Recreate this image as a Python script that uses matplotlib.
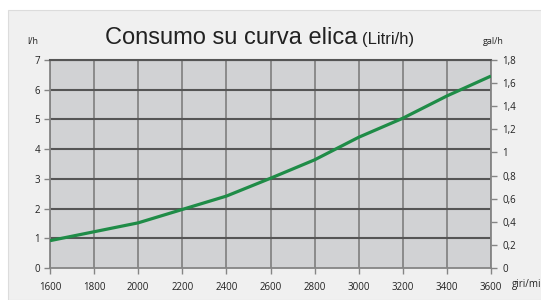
import matplotlib.pyplot as plt
from matplotlib.patches import Rectangle
from matplotlib.ticker import FuncFormatter

rpm = [1600, 1800, 2000, 2200, 2400, 2600, 2800, 3000, 3200, 3400, 3600]
litri_h = [0.92, 1.22, 1.52, 1.97, 2.42, 3.02, 3.64, 4.40, 5.04, 5.79, 6.46]
left_ticks = [0, 1, 2, 3, 4, 5, 6, 7]
right_ticks = [0, 0.2, 0.4, 0.6, 0.8, 1.0, 1.2, 1.4, 1.6, 1.8]

W, H = 541, 300
fig = plt.figure(figsize=(W / 100, H / 100), dpi=100)
fig.patch.set_facecolor('white')

# light panel behind everything, like the spreadsheet chart frame
fig.patches.append(Rectangle((8 / W, 0), 1, 1 - 10 / H, transform=fig.transFigure,
                             facecolor='#f0f0f0', edgecolor='#dcdcdc', lw=0.8, zorder=-10))

ax = fig.add_axes([50 / W, 32 / H, 441 / W, 208 / H])
ax.set_facecolor('#d1d2d4')
ax.set_xlim(1600, 3600)
ax.set_ylim(0, 7)
ax.set_xticks(rpm)
ax.set_yticks(left_ticks)

for v in rpm:
    ax.axvline(v, color='#858585', lw=1.3, zorder=1)
for v in left_ticks[1:]:
    ax.axhline(v, color='#555555', lw=1.5, zorder=1)

ax.plot(rpm, litri_h, color='#1f8c47', lw=2.3, zorder=3, solid_capstyle='butt')

tick_font = dict(family=['Open Sans', 'DejaVu Sans'], size=7, color='#222222')
for side in ['left', 'right', 'bottom']:
    ax.spines[side].set_color('#858585')
    ax.spines[side].set_linewidth(1.3)
ax.spines['top'].set_color('#555555')
ax.spines['top'].set_linewidth(1.5)
ax.tick_params(axis='both', direction='out', length=4, width=1, color='#858585', pad=3)
ax.tick_params(axis='x', pad=6)
for lab in ax.get_xticklabels() + ax.get_yticklabels():
    lab.set(**tick_font)

ax2 = ax.twinx()
ax2.set_ylim(0, 1.8)
ax2.set_yticks(right_ticks)
ax2.yaxis.set_major_formatter(FuncFormatter(lambda v, p: f'{v:g}'.replace('.', ',')))
ax2.tick_params(axis='y', direction='out', length=4, width=1, color='#858585', pad=4)
for side in ['left', 'right', 'bottom', 'top']:
    ax2.spines[side].set_visible(False)
for lab in ax2.get_yticklabels():
    lab.set(**tick_font)

title_font = ['Liberation Sans', 'DejaVu Sans']
t1 = fig.text(105 / W, 1 - 44 / H, 'Consumo su curva elica', fontsize=17,
              family=title_font, color='#222222', va='baseline')
fig.canvas.draw()
end = t1.get_window_extent().x1
fig.text((end + 5) / W, 1 - 44 / H, '(Litri/h)', fontsize=12,
         family=title_font, color='#222222', va='baseline')

fig.text(27 / W, 1 - 42 / H, 'l/h', fontsize=6.5, family=['Open Sans', 'DejaVu Sans'],
         color='#222222', va='center')
fig.text(483 / W, 1 - 42 / H, 'gal/h', fontsize=6.5, family=['Open Sans', 'DejaVu Sans'],
         color='#222222', va='center')
fig.text(512 / W, 1 - 285 / H, 'giri/min', fontsize=7, family=['Open Sans', 'DejaVu Sans'],
         color='#222222', va='center')

fig.savefig('out.png', dpi=100, facecolor=fig.get_facecolor())
